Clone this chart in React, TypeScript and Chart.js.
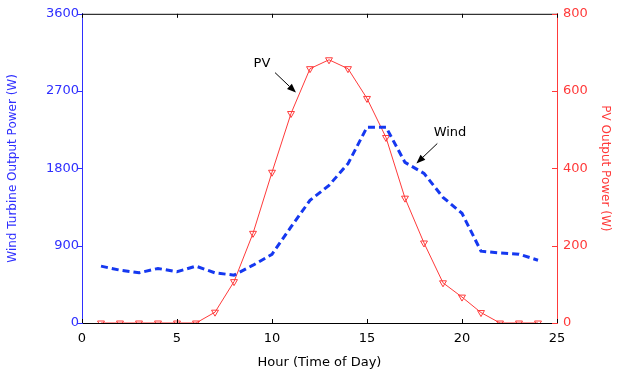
import React, { useEffect, useRef } from "react";
import { Chart, registerables } from "chart.js";

Chart.register(...registerables);

const hours = [1, 2, 3, 4, 5, 6, 7, 8, 9, 10, 11, 12, 13, 14, 15, 16, 17, 18, 19, 20, 21, 22, 23, 24];
const windPower = [662, 615, 584, 635, 596, 662, 584, 557, 673, 800, 1118, 1428, 1603, 1855, 2280, 2280, 1870, 1742, 1463, 1277, 836, 816, 801, 731];
const pvPower = [0, 0, 0, 0, 0, 0, 28, 107, 232, 390, 542, 658, 681, 658, 581, 480, 323, 207, 104, 67, 27, 0, 0, 0];
const xTicks = [0, 5, 10, 15, 20, 25];
const windTicks = [0, 900, 1800, 2700, 3600];
const pvTicks = [0, 200, 400, 600, 800];

// annotations: text position and arrow (in hour / wind-axis units)
const pvNote = { text: "PV", tx: 9.47, ty: 3019, fx: 10.16, fy: 2915, ax: 11.26, ay: 2683 };
const windNote = { text: "Wind", tx: 19.37, ty: 2218, fx: 18.7, fy: 2090, ax: 17.6, ay: 1858 };

const BLUE = "#2f2fff";
const RED = "#ff3a3a";
const FONT = "'DejaVu Sans', sans-serif";

export default function App() {
  const ref = useRef<HTMLCanvasElement | null>(null);
  useEffect(() => {
    if (!ref.current) return;
    const framePlugin = {
      id: "frame",
      afterDatasetsDraw(chart: any) {
        const { ctx, chartArea: a, scales } = chart;
        const x = scales.x, y = scales.y, y1 = scales.y1;
        ctx.save();
        ctx.lineWidth = 1;
        ctx.strokeStyle = "#000";
        ctx.beginPath();
        ctx.moveTo(a.left, a.top + 0.5);
        ctx.lineTo(a.right, a.top + 0.5);
        ctx.stroke();
        for (const v of xTicks) {
          const px = Math.round(x.getPixelForValue(v)) + 0.5;
          ctx.beginPath();
          ctx.moveTo(px, a.bottom);
          ctx.lineTo(px, a.bottom - 4);
          ctx.moveTo(px, a.top);
          ctx.lineTo(px, a.top + 4);
          ctx.stroke();
        }
        ctx.strokeStyle = BLUE;
        for (const v of windTicks) {
          const py = Math.round(y.getPixelForValue(v)) + 0.5;
          ctx.beginPath();
          ctx.moveTo(a.left - 5, py);
          ctx.lineTo(a.left, py);
          ctx.stroke();
        }
        ctx.strokeStyle = RED;
        for (const v of pvTicks) {
          const py = Math.round(y1.getPixelForValue(v)) + 0.5;
          ctx.beginPath();
          ctx.moveTo(a.right - 5, py);
          ctx.lineTo(a.right, py);
          ctx.stroke();
        }
        const notes = [pvNote, windNote];
        ctx.fillStyle = "#000";
        ctx.strokeStyle = "#000";
        ctx.font = "13px " + FONT;
        ctx.textAlign = "center";
        ctx.textBaseline = "middle";
        for (const n of notes) {
          ctx.fillText(n.text, x.getPixelForValue(n.tx), y.getPixelForValue(n.ty));
          const fx = x.getPixelForValue(n.fx), fy = y.getPixelForValue(n.fy);
          const tx = x.getPixelForValue(n.ax), ty = y.getPixelForValue(n.ay);
          const ang = Math.atan2(ty - fy, tx - fx);
          const len = 9, w = 3.5;
          const bx = tx - len * Math.cos(ang), by = ty - len * Math.sin(ang);
          ctx.beginPath();
          ctx.moveTo(fx, fy);
          ctx.lineTo(bx, by);
          ctx.stroke();
          ctx.beginPath();
          ctx.moveTo(tx, ty);
          ctx.lineTo(bx + w * Math.sin(ang), by - w * Math.cos(ang));
          ctx.lineTo(bx - w * Math.sin(ang), by + w * Math.cos(ang));
          ctx.closePath();
          ctx.fill();
        }
        ctx.restore();
      },
    };

    const plain = (v: any) => String(v);

    const chart = new Chart(ref.current, {
      type: "line",
      data: {
        datasets: [
          {
            label: "Wind",
            data: hours.map((h, i) => ({ x: h, y: windPower[i] })),
            yAxisID: "y",
            borderColor: "#1538f0",
            borderWidth: 3,
            borderDash: [7, 4],
            pointRadius: 0,
            fill: false,
            tension: 0,
          },
          {
            label: "PV",
            data: hours.map((h, i) => ({ x: h, y: pvPower[i] })),
            yAxisID: "y1",
            borderColor: RED,
            borderWidth: 1,
            pointStyle: "triangle",
            rotation: 180,
            pointRadius: 4,
            pointBorderWidth: 1,
            pointBorderColor: RED,
            pointBackgroundColor: "rgba(255,255,255,0)",
            fill: false,
            tension: 0,
          },
        ],
      },
      options: {
        responsive: false,
        animation: false,
        layout: { padding: { top: 13, left: 0, right: 0, bottom: 0 } },
        plugins: { legend: { display: false }, tooltip: { enabled: false } },
        scales: {
          x: {
            type: "linear",
            min: 0,
            max: 25,
            afterBuildTicks: (s: any) => { s.ticks = xTicks.map((v) => ({ value: v })); },
            afterFit: (s: any) => { s.height = 50; },
            grid: { display: false, drawTicks: false },
            border: { display: true, color: "#000", width: 1 },
            ticks: { color: "#000", font: { family: FONT, size: 13 }, padding: 8, maxRotation: 0, callback: plain },
            title: { display: true, text: "Hour (Time of Day)", color: "#000", font: { family: FONT, size: 13 }, padding: { top: 0, bottom: 3 } },
          },
          y: {
            type: "linear",
            position: "left",
            min: 0,
            max: 3600,
            afterBuildTicks: (s: any) => { s.ticks = windTicks.map((v) => ({ value: v })); },
            afterFit: (s: any) => { s.width = 82; },
            grid: { display: false, drawTicks: false },
            border: { display: true, color: BLUE, width: 1 },
            ticks: { color: BLUE, font: { family: FONT, size: 13 }, padding: 3, callback: plain },
            title: { display: true, text: "Wind Turbine Output Power (W)", color: BLUE, font: { family: FONT, size: 12 }, padding: { top: 6, bottom: 0 } },
          },
          y1: {
            type: "linear",
            position: "right",
            min: 0,
            max: 800,
            afterBuildTicks: (s: any) => { s.ticks = pvTicks.map((v) => ({ value: v })); },
            afterFit: (s: any) => { s.width = 65; },
            grid: { display: false, drawTicks: false },
            border: { display: true, color: RED, width: 1 },
            ticks: { color: RED, font: { family: FONT, size: 13 }, padding: 6, callback: plain },
            title: { display: true, text: "PV Output Power (W)", color: RED, font: { family: FONT, size: 12 }, padding: { top: 10, bottom: 0 } },
          },
        },
      },
      plugins: [framePlugin],
    } as any);
    return () => chart.destroy();
  }, []);
  return (
    <div style={{ position: "fixed", left: 0, top: 0, width: 622, height: 373, background: "#fff" }}>
      <canvas ref={ref} width={622} height={373} style={{ display: "block" }} />
    </div>
  );
}
